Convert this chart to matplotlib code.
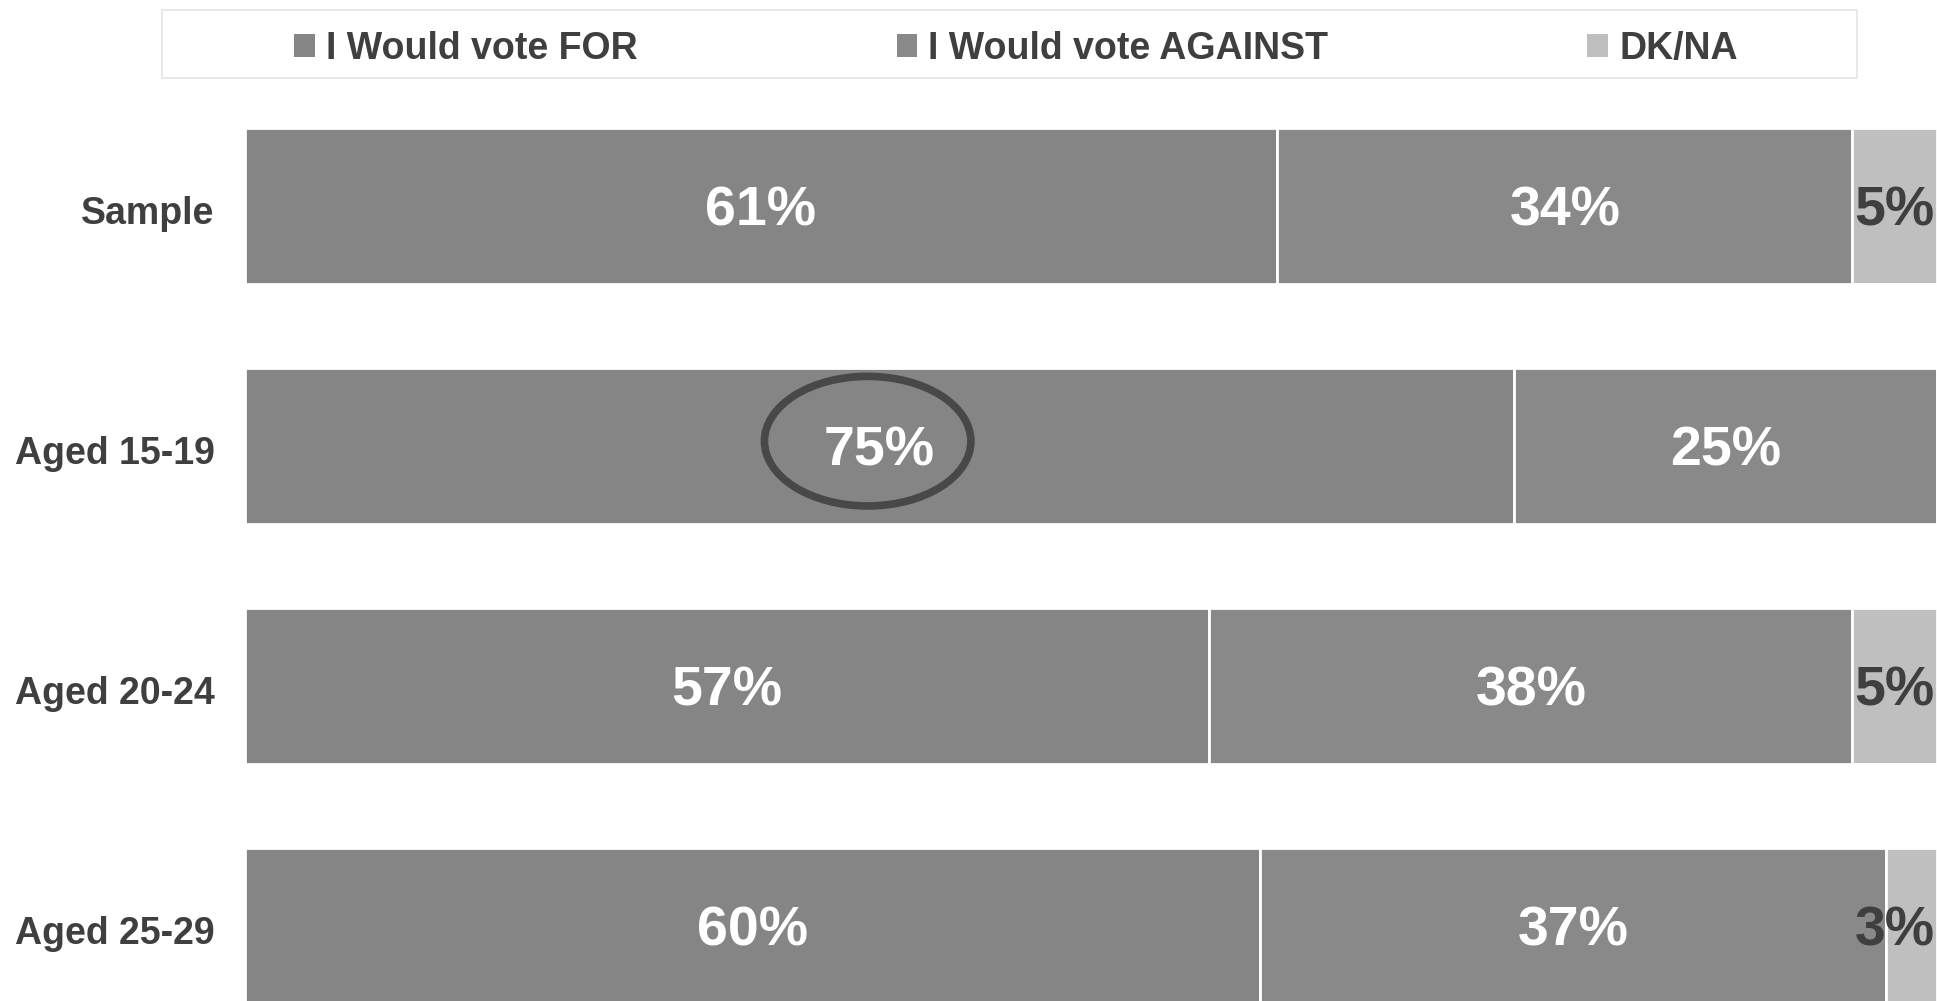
import numpy as np
import matplotlib.pyplot as plt
from matplotlib.patches import Ellipse, Patch, Rectangle

plt.rcParams["font.family"] = ["Liberation Sans", "DejaVu Sans"]
plt.rcParams["font.weight"] = "bold"

# Dados
grupos = ["Sample", "Aged 15-19", "Aged 20-24", "Aged 25-29"]
series = ["I Would vote FOR", "I Would vote AGAINST", "DK/NA"]
vote_for = [61, 75, 57, 60]
vote_against = [34, 25, 38, 37]
dk_na = [5, 0, 5, 3]

cores = ["#858585", "#898989", "#bfbfbf"]
cores_texto = ["white", "white", "#3f3f3f"]

fig = plt.figure(figsize=(19.37, 10.01), dpi=100)
ax = fig.add_axes([245 / 1937, 0, 1 - 245 / 1937, 1])

y = np.arange(len(grupos))
esquerda = np.zeros(len(grupos))
for valores, cor, cor_txt in zip([vote_for, vote_against, dk_na], cores, cores_texto):
    valores = np.array(valores, dtype=float)
    ax.barh(y, valores, left=esquerda, height=0.65, color=cor,
            edgecolor="white", linewidth=2)
    for i, v in enumerate(valores):
        if v <= 0:
            continue
        cx = min(esquerda[i] + v / 2, 97.5)
        ax.text(cx, y[i] + 0.025, f"{v:.0f}%", ha="center", va="center",
                color=cor_txt, fontsize=40, fontweight="bold")
    esquerda += valores

# Destaque em volta dos 75%
ax.add_patch(Ellipse((vote_for[1] / 2 - 0.7, y[1] - 0.02), 12.2, 0.54,
                     fill=False, edgecolor="#484848", linewidth=5.5, zorder=5))

ax.set_xlim(0, 100)
ax.set_ylim(3.3125, -0.858)
ax.set_yticks(y + 0.015)
ax.set_yticklabels(grupos, fontsize=27, fontweight="bold", color="#3f3f3f")
ax.tick_params(axis="y", length=0, pad=22)
ax.set_xticks([])
for s in ax.spines.values():
    s.set_visible(False)

# Legenda (moldura desenhada à parte)
fig.patches.append(Rectangle((162 / 1937, 1 - 78 / 1001), (1857 - 162) / 1937, 68 / 1001,
                             transform=fig.transFigure, facecolor="white",
                             edgecolor="#e4e4e4", linewidth=1.2, zorder=0))
handles = [Patch(facecolor=c, edgecolor="none") for c in cores]
leg = fig.legend(handles, series, loc="center", ncol=3,
                 bbox_to_anchor=(1016 / 1937, 1 - 49 / 1001),
                 fontsize=27, frameon=False, borderaxespad=0,
                 handlelength=0.55, handleheight=0.55, handletextpad=0.3,
                 columnspacing=6.9)
for t in leg.get_texts():
    t.set_color("#3f3f3f")

fig.savefig("out.png", dpi=100)
